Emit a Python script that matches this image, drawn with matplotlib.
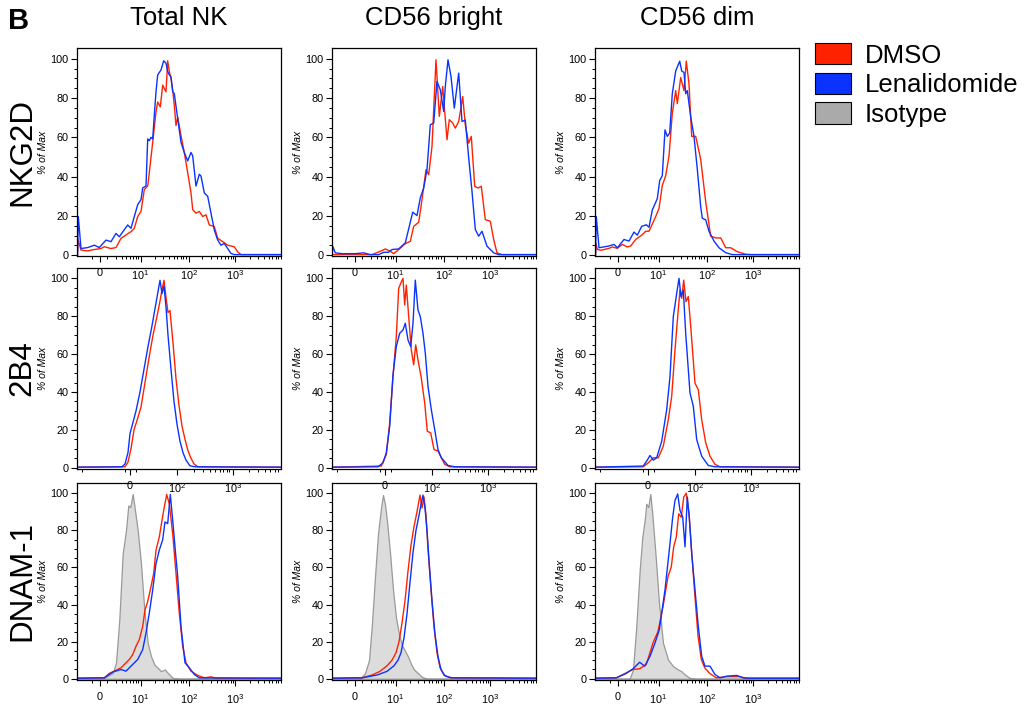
import numpy as np
import matplotlib.pyplot as plt
from matplotlib.patches import Patch

plt.rcParams['font.family'] = ['Liberation Sans', 'DejaVu Sans']
plt.rcParams['mathtext.default'] = 'regular'

rows = ['NKG2D', '2B4', 'DNAM-1']
cols = ['Total NK', 'CD56 bright', 'CD56 dim']
legend_labels = ['DMSO', 'Lenalidomide', 'Isotype']

RED = '#FF2200'
BLUE = '#0A33FF'
GRAY_FILL = '#DCDCDC'
GRAY_EDGE = '#999999'

# histograms: (display channel, % of max)
nkg2d_total_dmso = [(0.5, 0), (1, 8), (4, 2.6), (10.7, 2.2), (17.3, 2.9), (24, 3.4), (27.3, 4.3), (34, 3.4),
                    (39, 3.9), (44, 8.6), (49, 10.3), (54, 12), (57.3, 13.7), (60.7, 19.7), (64, 22.3),
                    (67.3, 33.4), (70.7, 35.2), (72.3, 42), (75.7, 57.5), (79, 72.9), (80.7, 78), (83.3, 75.5),
                    (85.7, 86.6), (87.3, 84.9), (89, 83.2), (90.7, 99), (92.3, 93.5), (94, 90), (95.7, 84),
                    (97.3, 76.3), (99, 66), (100.7, 70.3), (104, 60.9), (107.3, 52.3), (110.7, 42), (114, 31.7),
                    (115.7, 23.2), (119, 21.4), (122.3, 22.3), (125.7, 19.7), (129, 20.6), (132.3, 15.4),
                    (137.3, 14.6), (140.7, 8.6), (145.7, 6.9), (150.7, 5.1), (157.3, 4.3), (160.7, 1.7),
                    (164, 0.3), (204, 0.3)]
nkg2d_total_len = [(0.5, 0), (1.3, 19.7), (4, 3.4), (10.7, 3.9), (17.3, 5.1), (22.3, 3.9), (29, 7.7), (34, 6.9),
                   (39, 11.1), (42.3, 9.4), (50.7, 15.4), (54, 13.7), (57.3, 19.7), (60.7, 25.7), (64, 28.3),
                   (65.7, 34.3), (69, 35.2), (70.7, 59.2), (72.3, 58.3), (74, 60), (75.7, 59.2), (77.3, 71.2),
                   (79, 83.2), (80.7, 91.8), (84, 94.3), (86.7, 99), (89, 97.8), (90.7, 93.5), (92.3, 91.8),
                   (94, 90.9), (95.7, 83.2), (97.3, 82.3), (100.7, 69.5), (104, 57.5), (107.3, 52.3),
                   (110.7, 48), (114, 52.3), (115.7, 50.6), (119, 35.2), (122.3, 41.2), (124, 40.3),
                   (127.3, 31.7), (130.7, 30), (134, 21.4), (137.3, 12.9), (140.7, 7.7), (144, 5.1),
                   (147.3, 6), (150.7, 3.4), (154, 0.9), (157.3, 0.3), (204, 0.3)]

nkg2d_bright_dmso = [(0, 0.3), (40, 0.3), (48.3, 2), (53.3, 3.2), (58.3, 2), (61.7, 0.8), (66.7, 2.9),
                     (73.3, 5.9), (78.3, 7.1), (81.7, 14.7), (86.7, 16.8), (90, 28.3), (94, 43.6), (96.7, 41),
                     (100, 55.4), (104, 99.5), (107.3, 70.7), (110.7, 85.9), (115, 58.8), (117.3, 69),
                     (120.7, 67.3), (123.3, 64.7), (126.7, 68.1), (130.7, 80.8), (133.3, 66.4), (136.7, 57.1),
                     (139.3, 60.5), (142.7, 35.1), (146, 34.2), (149.3, 35.1), (153.3, 18.1), (158.3, 17.3),
                     (161.7, 8), (165, 1.2), (170, 0.3), (204, 0.3)]
nkg2d_bright_len = [(0.3, 0), (0.7, 4.6), (3.3, 1.2), (10, 0.8), (23.3, 0.8), (31.7, 1.2), (38.3, 0.3),
                    (46.7, 0.3), (51.7, 1.5), (56.7, 1.5), (60, 2.9), (66.7, 3.2), (73.3, 6.3), (77.3, 14.7),
                    (80.7, 21.9), (85, 20.2), (88.3, 29.2), (91.7, 34.2), (95, 43.6), (98.3, 66.4),
                    (101.7, 67.3), (105, 88.5), (108.3, 84.2), (111.7, 73.2), (113.3, 85.9), (116, 99.5),
                    (119, 91), (122.3, 74.9), (126.7, 92.7), (130, 68.1), (133.3, 68.8), (136.7, 49.5),
                    (140, 32.5), (143.3, 13.1), (146.7, 9.7), (150, 12.2), (155, 4.6), (161.7, 1.2),
                    (166.7, 0.3), (204, 0.3)]

nkg2d_dim_dmso = [(0.5, 0), (1, 6), (2.3, 3), (5.7, 2.5), (14, 3.5), (17.3, 4.2), (22.3, 3.5), (27.3, 5.5),
                  (32.3, 4.2), (35.7, 4.7), (40.7, 8), (47.3, 10.5), (50.7, 12.2), (54, 12.2), (60.7, 19.7),
                  (64, 23.8), (67.3, 35.5), (70.7, 40.5), (74, 50.5), (77.3, 72.2), (80.7, 83.8), (82.3, 77.2),
                  (85.7, 90.5), (89, 83.8), (91.3, 98.8), (94, 87.2), (96.7, 60.5), (100.7, 60.5),
                  (105.7, 48.8), (110.7, 27.2), (115.7, 9.7), (120.7, 8.8), (125.7, 8.8), (130.7, 3.8),
                  (135.7, 3.8), (142.3, 1.8), (150.7, 0.5), (157.3, 0.3), (204, 0.3)]
nkg2d_dim_len = [(0.5, 0), (1.3, 19.7), (4, 3.8), (14, 4.7), (19, 5.5), (22.3, 3.8), (29, 8), (34, 7.2),
                 (39, 11.8), (42.3, 10.2), (46.7, 14.7), (51.3, 15.5), (54, 14.2), (57.3, 23), (62.3, 28.8),
                 (64.7, 38), (67.3, 40.5), (70, 63.8), (72.3, 60.5), (74.7, 62.2), (77.3, 82.2), (80.7, 93.8),
                 (84.7, 98.8), (86.7, 93.8), (89, 93), (90.7, 82.2), (92.3, 83.8), (95.7, 70.5), (99, 60.5),
                 (102.3, 43.8), (105.7, 24.7), (107.3, 18.8), (110.7, 18), (114, 12.2), (119, 7.2),
                 (124, 3.8), (130.7, 1.3), (137.3, 0.3), (204, 0.3)]

b4_total_dmso = [(0, 0.3), (48, 0.5), (51, 3), (54, 10), (57, 20), (60, 25), (64, 32), (68, 45), (72, 58),
                 (76, 70), (80, 80), (83, 88), (85, 94), (87, 99), (89, 90), (91, 82), (93, 83), (96, 66),
                 (99, 47), (102, 33), (105, 22), (108, 15), (111, 9), (114, 5), (117, 2), (121, 0.5), (204, 0.3)]
b4_total_len = [(0, 0.3), (45, 0.5), (48, 2), (51, 8), (53, 18), (56, 24), (59, 30), (63, 40), (67, 52),
                (71, 64), (75, 75), (78, 84), (81, 93), (83, 99), (85, 92), (87, 96), (89, 85), (91, 70),
                (94, 52), (97, 35), (100, 23), (103, 14), (106, 8), (109, 4), (113, 1), (118, 0.5), (204, 0.3)]

b4_bright_dmso = [(0, 0.3), (49.3, 0.9), (54.3, 7), (57.7, 23.7), (61, 48.2), (64.3, 69.3), (66.7, 94.7),
                  (68.7, 97.4), (71, 100), (72.7, 86), (74.3, 96.5), (76.7, 79.8), (79.3, 62.3), (81.7, 54.4),
                  (83.7, 64.9), (86, 57), (89.3, 47.4), (92.7, 34.2), (95.3, 19.3), (98.7, 18.4), (102, 9.6),
                  (106, 8.8), (109.3, 5.3), (112.7, 1.8), (117.7, 0.5), (204, 0.3)]
b4_bright_len = [(0, 0.3), (46, 0.5), (51, 2.6), (54.3, 7.9), (57.7, 21.9), (61, 49.1), (64.3, 64), (67.7, 71),
                 (71, 72.8), (73.3, 76.3), (76, 67.5), (78.7, 64), (81, 76.3), (83.3, 99.1), (86, 83.3),
                 (88.3, 79.8), (91, 71), (93.3, 60.5), (96, 43), (99.3, 30.7), (102.7, 20.2), (106, 9.6),
                 (109.3, 5.3), (116, 1.2), (122.7, 0.5), (204, 0.3)]

b4_dim_dmso = [(0, 0.3), (48, 0.5), (53.3, 2.6), (58.3, 5.3), (63.3, 5.3), (68.3, 11.4), (73.3, 25.4),
               (76.7, 37.7), (80, 62.3), (82.7, 79.8), (85, 93.9), (86.7, 89.5), (88.7, 99.1), (91, 87.7),
               (93.3, 90.4), (96, 72.8), (100, 44.7), (103.3, 41.2), (106.7, 25.4), (110.7, 13.2), (115, 6.1),
               (120, 1.8), (125, 0.5), (204, 0.3)]
b4_dim_len = [(0, 0.3), (48.3, 0.9), (52.7, 4.4), (55, 6.5), (58.3, 4), (61.7, 5.3), (66.7, 14), (71.7, 30.7),
              (75, 48.2), (78.3, 79.8), (81.7, 92.1), (84, 100), (86, 90.4), (88.3, 93.9), (90.7, 71),
              (95, 39.5), (98.3, 32.5), (101.7, 14.9), (106.7, 6.1), (113.3, 1.2), (120, 0.5), (204, 0.3)]

dnam_total_iso = [(0, 0), (25.7, 0), (35.7, 3.2), (39, 8.6), (42.3, 31.8), (45.7, 67.5), (49, 80), (51.3, 93.4),
                  (53.3, 92.5), (55.7, 99.6), (58, 90.7), (60.7, 80), (64, 62.1), (67.3, 37.1), (70.7, 19.3),
                  (74, 12.1), (77.3, 7.7), (80.7, 5.9), (84, 4.1), (88, 5), (90.7, 3.2), (95.7, 0.5),
                  (100.7, 0), (204, 0)]
dnam_total_dmso = [(0, 0.3), (27.3, 0.5), (32.3, 2.9), (37.3, 4.1), (44, 5.9), (49, 8.6), (52.3, 10.4),
                   (55.7, 13), (59, 17.5), (62.3, 21.1), (65.7, 28.2), (68, 37.1), (70.7, 41.6), (74, 49.6),
                   (76.7, 56.8), (79, 69.3), (82.3, 76.4), (85, 85.4), (87.3, 92.5), (89.7, 99.3), (92.3, 94.3),
                   (95.7, 78.2), (99, 56.8), (102.3, 35.4), (105.7, 17.5), (109, 8.6), (114, 4.1), (120.7, 1.8),
                   (127.3, 0.5), (134, 1), (139, 0.3), (204, 0.3)]
dnam_total_len = [(0, 0.3), (27.3, 0.5), (35.7, 3.6), (44, 5), (49, 4.1), (54, 6.8), (60.7, 10.4), (65.7, 15.7),
                  (69, 24.6), (72.3, 35.4), (75.7, 47.9), (79, 62.1), (82.3, 69.3), (85.7, 75), (88, 84.5),
                  (90.7, 83.6), (93.3, 99.3), (95.7, 85.4), (98, 71.1), (100.7, 55), (104, 28.2), (108, 8.6),
                  (112.3, 5.9), (117.3, 2.3), (122.3, 0.5), (204, 0.3)]

dnam_bright_iso = [(0, 0), (28, 0), (33, 3), (37, 10), (40, 30), (43, 55), (46, 78), (49, 92), (51, 99), (53, 94),
                   (55, 85), (58, 68), (61, 48), (64, 33), (67, 24), (70, 18), (73, 15), (76, 12), (79, 8),
                   (82, 5), (86, 3), (90, 1), (95, 0), (204, 0)]
dnam_bright_dmso = [(0, 0.3), (30, 0.5), (40, 2), (48, 4), (55, 7), (60, 10), (64, 14), (67, 20), (70, 30),
                    (73, 42), (76, 58), (79, 72), (82, 82), (85, 90), (88, 99), (90, 92), (92, 98), (94, 88),
                    (96, 70), (99, 48), (102, 28), (105, 14), (108, 6), (112, 2), (118, 0.5), (204, 0.3)]
dnam_bright_len = [(0, 0.3), (30, 0.5), (45, 2), (55, 4), (62, 7), (66, 10), (69, 14), (72, 22), (75, 35),
                   (78, 52), (81, 68), (84, 80), (87, 88), (89, 94), (91, 99), (93, 92), (95, 80), (97, 64),
                   (100, 42), (103, 24), (106, 12), (109, 5), (113, 1.5), (120, 0.5), (204, 0.3)]

dnam_dim_iso = [(0, 0), (34.7, 0), (38, 5), (41.3, 28.2), (44.7, 58.6), (47.3, 76.4), (49.7, 85.4), (51.3, 94.3),
                (53.3, 92.5), (55.3, 99.6), (57.3, 88.9), (60.7, 65.7), (64, 40.7), (68, 19.3), (73, 10.4),
                (78, 6.8), (83, 5), (86.3, 4.1), (89.7, 2.3), (94.7, 0.5), (99.7, 0), (204, 0)]
dnam_dim_dmso = [(0, 0.3), (21.3, 0.5), (28, 2.3), (38, 5), (44.7, 5.4), (51.3, 7.7), (58, 19.3), (63, 25.5),
                 (68, 38.9), (73, 55), (76.3, 60.4), (78.7, 71.1), (81.3, 76.4), (83.7, 88.9), (86.3, 87.1),
                 (88.7, 97.9), (91.3, 100), (94, 88.9), (96.3, 71.1), (99.7, 46.1), (103, 23.2), (106.3, 10.4),
                 (109.7, 5.9), (114.7, 2.9), (121.3, 0.5), (131.3, 1.1), (144.7, 1.1), (151.3, 0.3), (204, 0.3)]
dnam_dim_len = [(0, 0.3), (21.3, 0.5), (31.3, 2.9), (38, 5.4), (44.7, 8.9), (49.7, 6.8), (55, 12.1), (60, 19.3),
                (64.3, 26.4), (70, 47.9), (74.3, 69.3), (77.7, 87.1), (80, 96.1), (82.7, 99.6), (85, 90.7),
                (87.7, 87.1), (90, 71.1), (92.3, 97.9), (94.3, 87.1), (96.7, 67.5), (100, 47.9), (103.3, 28.2),
                (106.7, 12.1), (110, 6.8), (115, 6.8), (120, 2.3), (125, 0.5), (131.7, 1.4), (141.7, 1.8),
                (148.3, 0.5), (155, 0.3), (204, 0.3)]

panels = [
    [(None, nkg2d_total_dmso, nkg2d_total_len), (None, nkg2d_bright_dmso, nkg2d_bright_len),
     (None, nkg2d_dim_dmso, nkg2d_dim_len)],
    [(None, b4_total_dmso, b4_total_len), (None, b4_bright_dmso, b4_bright_len),
     (None, b4_dim_dmso, b4_dim_len)],
    [(dnam_total_iso, dnam_total_dmso, dnam_total_len), (dnam_bright_iso, dnam_bright_dmso, dnam_bright_len),
     (dnam_dim_iso, dnam_dim_dmso, dnam_dim_len)],
]

# axis ticks (logicle display channels)
log_major = [22.5, 63.5, 112, 158]
log_labels = ['0', '$10^1$', '$10^2$', '$10^3$']
log_minor = [15] + [63.5 + (k - 1) * 47.5 + np.log10(m) * 47.5 for k in range(4) for m in range(2, 10)]
wide_major = [53, 100, 156]
wide_labels = ['0', '$10^2$', '$10^3$']
wide_minor = [5, 48, 59] + [100 + (k - 2) * 55 + np.log10(m) * 55 for k in (2, 3) for m in range(2, 10)]

W, H = 1030, 706
lefts = [77, 332, 595]
tops = [48, 268, 483]
bottoms = [256, 468.5, 679.5]
pw = 204

fig = plt.figure(figsize=(W / 100, H / 100), dpi=100)

for r in range(3):
    for c in range(3):
        ax = fig.add_axes([lefts[c] / W, 1 - bottoms[r] / H, pw / W, (bottoms[r] - tops[r]) / H])
        ax.set_facecolor('none')
        iso, dmso, lena = panels[r][c]
        if iso is not None:
            xi, yi = zip(*iso)
            ax.fill_between(xi, yi, 0, facecolor=GRAY_FILL, edgecolor=GRAY_EDGE, lw=0.9)
        xd, yd = zip(*dmso)
        ax.plot(xd, yd, color=RED, lw=1.0)
        xl, yl = zip(*lena)
        ax.plot(xl, yl, color=BLUE, lw=1.0)

        ax.set_xlim(0, pw)
        ax.set_ylim(-0.4, 105.5)
        if r == 1:
            ax.set_xticks(wide_major)
            ax.set_xticklabels(wide_labels)
            ax.set_xticks([t for t in wide_minor if 0 < t < pw], minor=True)
        else:
            ax.set_xticks(log_major)
            ax.set_xticklabels(log_labels)
            ax.set_xticks([t for t in log_minor if 0 < t < pw], minor=True)
        ax.set_yticks(range(0, 101, 20))
        ax.set_yticks(range(0, 101, 5), minor=True)
        ax.tick_params(axis='both', which='major', labelsize=7.8, length=4, width=0.8, pad=2)
        ax.tick_params(axis='x', which='major', pad=5)
        ax.tick_params(axis='both', which='minor', length=2.2, width=0.7)
        for s in ax.spines.values():
            s.set_linewidth(0.9)
        ax.set_ylabel('% of Max', fontsize=7.5, fontstyle='italic', labelpad=2)

    fig.text(22 / W, 1 - (tops[r] + bottoms[r]) / 2 / H, rows[r], rotation=90, fontsize=22.5,
             ha='center', va='center')

for c in range(3):
    fig.text((lefts[c] + pw / 2) / W, 1 - 18 / H, cols[c], fontsize=18.5, ha='center', va='center')

fig.text(19 / W, 1 - 21 / H, 'B', fontsize=21, fontweight='bold', ha='center', va='center')

handles = [Patch(facecolor=RED, edgecolor='black', lw=0.8),
           Patch(facecolor=BLUE, edgecolor='black', lw=0.8),
           Patch(facecolor='#AAAAAA', edgecolor='black', lw=0.8)]
fig.legend(handles, legend_labels, loc='upper left', bbox_to_anchor=(815 / W, 1 - 43 / H), frameon=False,
           fontsize=18.5, handlelength=1.42, handleheight=0.9, handletextpad=0.52, labelspacing=0.2,
           borderpad=0, borderaxespad=0)

fig.savefig('out.png', dpi=100)
